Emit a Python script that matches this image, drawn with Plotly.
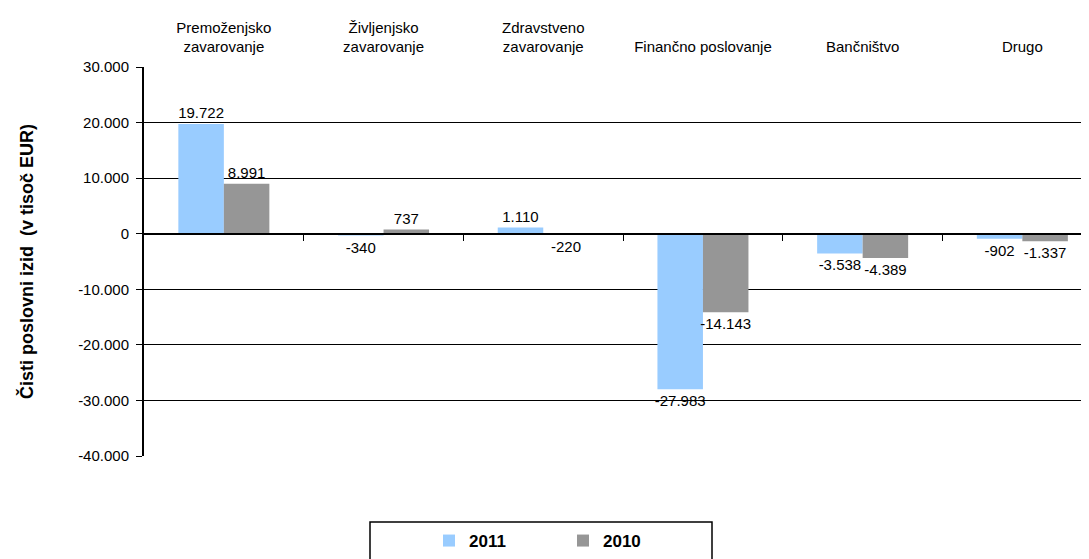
import plotly.graph_objects as go

categories = ["Premoženjsko<br>zavarovanje", "Življenjsko<br>zavarovanje", "Zdravstveno<br>zavarovanje",
              "Finančno poslovanje", "Bančništvo", "Drugo"]
values_2011 = [19722, -340, 1110, -27983, -3538, -902]
values_2010 = [8991, 737, -220, -14143, -4389, -1337]
y_ticks = [30000, 20000, 10000, 0, -10000, -20000, -30000, -40000]


def fmt(v):
    s = f"{abs(v):,}".replace(",", ".")
    return ("-" if v < 0 else "") + s


OFF = 8  # default page body margin
W, H = 1089 - OFF, 559 - OFF
L, R, T, B = 144 - OFF, 0, 67 - OFF, 103
x_idx = list(range(len(categories)))
ymin, ymax = -40000, 30000
FONT = "Liberation Sans, Arial"

fig = go.Figure()
fig.add_trace(go.Bar(x=x_idx, y=values_2011, name="2011", marker=dict(color="#99CCFF", line=dict(width=0)),
                     text=[fmt(v) for v in values_2011], textposition="outside", constraintext="none",
                     textfont=dict(size=15, color="black", family=FONT), cliponaxis=False))
fig.add_trace(go.Bar(x=x_idx, y=values_2010, name="2010", marker=dict(color="#969696", line=dict(width=0)),
                     text=[fmt(v) for v in values_2010], textposition="outside", constraintext="none",
                     textfont=dict(size=15, color="black", family=FONT), cliponaxis=False))

plot_w = W - L - R
plot_h = H - T - B
cat_w = 159.7
xr_max = -0.5 + plot_w / cat_w
zero_pos = (0 - ymin) / (ymax - ymin)


def px_x(px):
    return (px - OFF - L) / plot_w


def px_y(py):
    return 1 - (py - OFF - T) / plot_h


fig.update_layout(
    width=W, height=H,
    margin=dict(l=L, r=R, t=T, b=B, autoexpand=False),
    paper_bgcolor="white", plot_bgcolor="white",
    font=dict(family=FONT, size=14, color="black"),
    barmode="group", bargap=0.43, bargroupgap=0,
    showlegend=True,
    legend=dict(orientation="h", x=px_x(429), xanchor="left",
                y=px_y(541), yanchor="middle",
                font=dict(size=17, family=FONT, color="black", weight="bold"),
                bgcolor="rgba(0,0,0,0)", entrywidth=89, itemwidth=30, traceorder="normal"),
    xaxis=dict(range=[-0.5, xr_max], side="top", tickvals=x_idx, ticktext=categories, ticks="",
               showline=False, showgrid=False, zeroline=False, tickfont=dict(size=15),
               ticklabelstandoff=11, automargin=False),
    xaxis2=dict(range=[-0.5, xr_max], overlaying="x", anchor="free", position=zero_pos, side="bottom",
                tickvals=[i + 0.5 for i in x_idx[:-1]], ticks="outside", ticklen=6, tickcolor="black",
                tickwidth=1, showticklabels=False, showline=True, linecolor="black", linewidth=2,
                showgrid=False, zeroline=False, automargin=False),
    yaxis=dict(range=[ymin, ymax], tickvals=y_ticks, ticktext=[fmt(v) for v in y_ticks],
               ticks="outside", ticklen=6, tickcolor="black", showgrid=True, gridcolor="black", gridwidth=1,
               zeroline=False, showline=True, linecolor="black", linewidth=2, tickfont=dict(size=15),
               ticklabelstandoff=4, automargin=False,
               title=dict(text="<b>Čisti poslovni izid  (v tisoč EUR)</b>", font=dict(size=18), standoff=40)),
    shapes=[dict(type="rect", xref="paper", yref="paper",
                 x0=px_x(370), x1=px_x(712),
                 y0=px_y(522), y1=px_y(600),
                 line=dict(color="black", width=1.5), fillcolor="rgba(0,0,0,0)", layer="below")],
)
# invisible trace so xaxis2 renders
fig.add_trace(go.Scatter(x=[0], y=[0], xaxis="x2", mode="markers", marker=dict(opacity=0),
                         showlegend=False, hoverinfo="skip"))

fig.write_html("out.html")
